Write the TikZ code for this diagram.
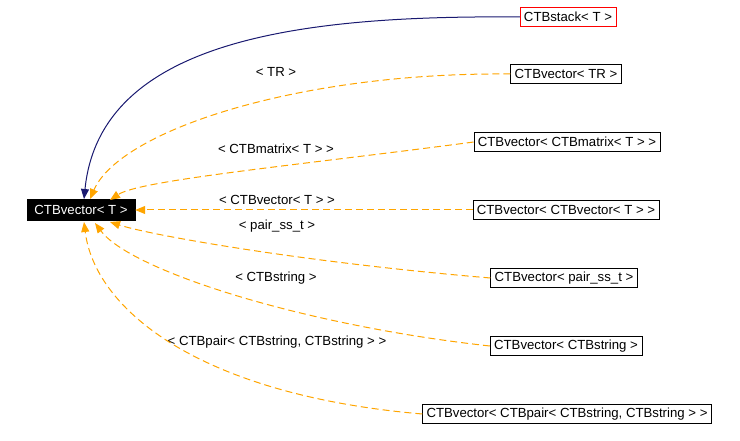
\documentclass[tikz,border=0pt]{standalone}
\usepackage{fontspec}
\setmainfont{Liberation Sans}
\usetikzlibrary{arrows.meta, positioning}
\definecolor{edgeNavy}{RGB}{25,25,112}
\definecolor{edgeOrange}{RGB}{255,165,0}
\tikzset{
  cls/.style={draw=black, fill=white, inner xsep=4pt, inner ysep=0pt, minimum height=19pt, font=\fontsize{13.2}{15}\selectfont},
  lbl/.style={font=\fontsize{13.2}{15}\selectfont},
  inherit/.style={draw=edgeNavy, line width=1pt, -{Triangle[length=10pt, width=8pt]}},
  tmpl/.style={draw=edgeOrange, line width=1pt, dashed, dash pattern=on 7pt off 4pt, -{Triangle[length=10pt, width=8pt]}}
}
\begin{document}
\begin{tikzpicture}[x=1pt, y=-1pt]
\useasboundingbox (0,0) rectangle (740,441);
% classes
\node[cls, fill=black, text=white, minimum width=108pt, minimum height=21pt] (base) at (81,210) {CTBvector< T >};
\node[cls, draw=red] (stack) at (568,17) {CTBstack< T >};
\node[cls] (vtr) at (566,74) {CTBvector< TR >};
\node[cls] (vmat) at (567,142) {CTBvector< CTBmatrix< T > >};
\node[cls] (vvec) at (566,210) {CTBvector< CTBvector< T > >};
\node[cls] (vpair) at (564,278) {CTBvector< pair\_ss\_t >};
\node[cls] (vstr) at (566,346) {CTBvector< CTBstring >};
\node[cls] (vcp) at (567,414) {CTBvector< CTBpair< CTBstring, CTBstring > >};
% labels
\node[lbl] (ltr) at (276,72) {< TR >};
\node[lbl] (lmat) at (276,149) {< CTBmatrix< T > >};
\node[lbl] (lvec) at (277,200) {< CTBvector< T > >};
\node[lbl] (lpair) at (277,226) {< pair\_ss\_t >};
\node[lbl] (lstr) at (276,278) {< CTBstring >};
\node[lbl] (lcp) at (277,342) {< CTBpair< CTBstring, CTBstring > >};
% edges
\coordinate (e1) at (84,199);
\coordinate (e2) at (90,199);
\coordinate (e3) at (110,200);
\coordinate (e5) at (110,222);
\coordinate (e6) at (95,223);
\coordinate (e7) at (84,222);
\draw[inherit] (stack.west) .. controls (300,15) and (100,40) .. (e1);
\draw[tmpl] (vtr.west) .. controls (300,72) and (120,130) .. (e2);
\draw[tmpl] (vmat.west) .. controls (300,165) and (140,180) .. (e3);
\draw[tmpl] (vvec.west) -- (base.east);
\draw[tmpl] (vpair.west) .. controls (300,262) and (150,235) .. (e5);
\draw[tmpl] (vstr.west) .. controls (300,325) and (130,270) .. (e6);
\draw[tmpl] (vcp.west) .. controls (200,395) and (95,310) .. (e7);
\end{tikzpicture}
\end{document}
